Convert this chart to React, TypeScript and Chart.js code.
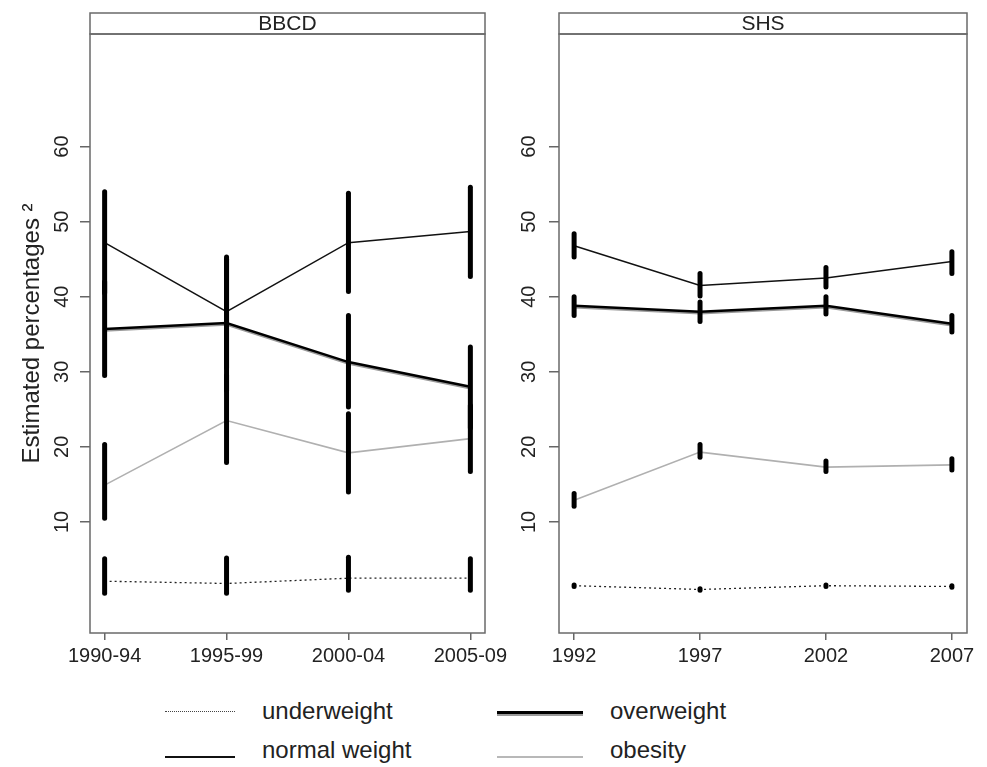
import React, { useEffect, useRef } from 'react';
import { Chart, registerables } from 'chart.js';

Chart.register(...registerables);

const FONT = "'Liberation Sans', Arial, Helvetica, sans-serif";

// ---- data ----
const bbcdLabels = ['1990-94', '1995-99', '2000-04', '2005-09'];
const bbcdUnder = [2.1, 1.8, 2.5, 2.5];
const bbcdUnderLo = [0.5, 0.5, 0.9, 0.9];
const bbcdUnderHi = [5.1, 5.2, 5.3, 5.1];
const bbcdNormal = [47.2, 38.0, 47.2, 48.7];
const bbcdNormalLo = [40.5, 30.5, 40.7, 42.7];
const bbcdNormalHi = [54.0, 45.3, 53.8, 54.6];
const bbcdOver = [35.7, 36.5, 31.3, 28.0];
const bbcdOverLo = [29.5, 27.5, 25.3, 22.5];
const bbcdOverHi = [42.0, 45.0, 37.5, 33.3];
const bbcdObese = [14.9, 23.5, 19.2, 21.1];
const bbcdObeseLo = [10.5, 17.9, 14.0, 16.7];
const bbcdObeseHi = [20.3, 29.5, 24.4, 25.5];

const shsLabels = ['1992', '1997', '2002', '2007'];
const shsUnder = [1.5, 1.0, 1.5, 1.4];
const shsUnderLo = [1.4, 0.9, 1.4, 1.3];
const shsUnderHi = [1.6, 1.1, 1.6, 1.5];
const shsNormal = [46.8, 41.5, 42.5, 44.7];
const shsNormalLo = [45.3, 40.1, 41.3, 43.1];
const shsNormalHi = [48.4, 43.1, 43.9, 46.0];
const shsOver = [38.8, 38.0, 38.8, 36.4];
const shsOverLo = [37.5, 36.7, 37.7, 35.3];
const shsOverHi = [40.0, 39.3, 40.0, 37.5];
const shsObese = [12.9, 19.3, 17.3, 17.6];
const shsObeseLo = [12.1, 18.6, 16.7, 16.9];
const shsObeseHi = [13.8, 20.3, 18.1, 18.4];

const yTickValues = [10, 20, 30, 40, 50, 60];
const Y_MIN = -4.8;
const Y_MAX = 75;
const X_MIN = -0.12;
const X_MAX = 3.12;

const seriesNames = ['underweight', 'normal weight', 'overweight', 'obesity'];

const decorPlugin = {
  id: 'panelDecor',
  beforeDatasetDraw(chart: any, args: any) {
    const ds = chart.data.datasets[args.index];
    if (ds.shadowCol) {
      const ctx = chart.ctx;
      ctx.save();
      ctx.shadowColor = ds.shadowCol;
      ctx.shadowOffsetX = 0;
      ctx.shadowOffsetY = 1.6;
      ctx.shadowBlur = 0;
    }
  },
  afterDatasetDraw(chart: any, args: any) {
    const ds = chart.data.datasets[args.index];
    if (ds.shadowCol) chart.ctx.restore();
  },
  afterDatasetsDraw(chart: any) {
    const ctx = chart.ctx;
    const xs = chart.scales.x;
    const ys = chart.scales.y;
    ctx.save();
    ctx.strokeStyle = '#000';
    ctx.lineWidth = 5;
    ctx.lineCap = 'round';
    chart.data.datasets.forEach((ds: any) => {
      (ds.lo || []).forEach((lo: number, i: number) => {
        const px = xs.getPixelForValue(i);
        ctx.beginPath();
        ctx.moveTo(px, ys.getPixelForValue(lo));
        ctx.lineTo(px, ys.getPixelForValue(ds.hi[i]));
        ctx.stroke();
      });
    });
    ctx.restore();
  },
  afterDraw(chart: any, _args: any, opts: any) {
    const ctx = chart.ctx;
    const { left, right, top, bottom } = chart.chartArea;
    ctx.save();
    ctx.strokeStyle = '#6a6a6a';
    ctx.lineWidth = 1.5;
    ctx.strokeRect(left, top, right - left, bottom - top);
    ctx.strokeRect(left, top - 21, right - left, 21);
    ctx.fillStyle = '#222';
    ctx.font = `21px ${FONT}`;
    ctx.textAlign = 'center';
    ctx.textBaseline = 'middle';
    ctx.fillText(opts.title, (left + right) / 2, top - 9.5);
    ctx.restore();
  },
};

function pts(values: number[]) {
  return values.map((v, i) => ({ x: i, y: v }));
}

function makeConfig(
  title: string,
  labels: string[],
  s: { under: number[][]; normal: number[][]; over: number[][]; obese: number[][] },
  yAxisWidth: number,
  rightPad: number,
  showYTitle: boolean,
  tickPad: number
): any {
  return {
    type: 'line',
    data: {
      datasets: [
        {
          label: seriesNames[0],
          data: pts(s.under[0]),
          lo: s.under[1],
          hi: s.under[2],
          borderColor: '#222',
          borderWidth: 1.3,
          borderDash: [2, 3],
          pointRadius: 0,
        },
        {
          label: seriesNames[1],
          data: pts(s.normal[0]),
          lo: s.normal[1],
          hi: s.normal[2],
          borderColor: '#111',
          borderWidth: 1.5,
          pointRadius: 0,
        },
        {
          label: seriesNames[3],
          data: pts(s.obese[0]),
          lo: s.obese[1],
          hi: s.obese[2],
          borderColor: '#b0b0b0',
          borderWidth: 1.6,
          pointRadius: 0,
        },
        {
          label: seriesNames[2],
          data: pts(s.over[0]),
          lo: s.over[1],
          hi: s.over[2],
          borderColor: '#000',
          borderWidth: 2.4,
          shadowCol: '#9a9a9a',
          pointRadius: 0,
        },
      ],
    },
    options: {
      responsive: false,
      animation: false,
      layout: { padding: { top: 34, right: rightPad, left: 0, bottom: 0 } },
      plugins: {
        legend: { display: false },
        tooltip: { enabled: false },
        panelDecor: { title },
      },
      scales: {
        x: {
          type: 'linear',
          min: X_MIN,
          max: X_MAX,
          afterBuildTicks: (sc: any) => {
            sc.ticks = labels.map((_, i) => ({ value: i }));
          },
          afterFit: (sc: any) => {
            sc.height = 37;
            sc.paddingLeft = 0;
            sc.paddingRight = 0;
          },
          ticks: {
            callback: (_v: any, i: number) => labels[i],
            font: { size: 20, family: FONT },
            color: '#222',
            padding: 4,
            maxRotation: 0,
            minRotation: 0,
            autoSkip: false,
          },
          grid: { drawOnChartArea: false, drawTicks: true, tickLength: 7, color: '#666', lineWidth: 1.5 },
          border: { display: false },
        },
        y: {
          type: 'linear',
          min: Y_MIN,
          max: Y_MAX,
          afterBuildTicks: (sc: any) => {
            sc.ticks = yTickValues.map((v) => ({ value: v }));
          },
          afterFit: (sc: any) => {
            sc.width = yAxisWidth;
            sc.paddingTop = 0;
            sc.paddingBottom = 0;
          },
          ticks: {
            font: { size: 20, family: FONT },
            color: '#222',
            minRotation: 90,
            maxRotation: 90,
            crossAlign: 'center',
            padding: tickPad,
          },
          grid: { drawOnChartArea: false, drawTicks: true, tickLength: 10, color: '#666', lineWidth: 1.5 },
          border: { display: false },
          title: {
            display: showYTitle,
            text: 'Estimated percentages \u00B2',
            font: { size: 24, family: FONT },
            color: '#222',
            padding: { top: 18, bottom: 0 },
          },
        },
      },
    },
    plugins: [decorPlugin],
  };
}

export default function App() {
  const leftRef = useRef<HTMLCanvasElement>(null);
  const rightRef = useRef<HTMLCanvasElement>(null);

  useEffect(() => {
    const c1 = new Chart(
      leftRef.current as HTMLCanvasElement,
      makeConfig(
        'BBCD',
        bbcdLabels,
        {
          under: [bbcdUnder, bbcdUnderLo, bbcdUnderHi],
          normal: [bbcdNormal, bbcdNormalLo, bbcdNormalHi],
          over: [bbcdOver, bbcdOverLo, bbcdOverHi],
          obese: [bbcdObese, bbcdObeseLo, bbcdObeseHi],
        },
        90,
        45,
        true,
        6
      )
    );
    const c2 = new Chart(
      rightRef.current as HTMLCanvasElement,
      makeConfig(
        'SHS',
        shsLabels,
        {
          under: [shsUnder, shsUnderLo, shsUnderHi],
          normal: [shsNormal, shsNormalLo, shsNormalHi],
          over: [shsOver, shsOverLo, shsOverHi],
          obese: [shsObese, shsObeseLo, shsObeseHi],
        },
        64,
        20,
        false,
        8
      )
    );
    return () => {
      c1.destroy();
      c2.destroy();
    };
  }, []);

  const textStyle: React.CSSProperties = {
    position: 'absolute',
    fontFamily: FONT,
    fontSize: 24,
    lineHeight: '24px',
    color: '#222',
    whiteSpace: 'nowrap',
  };

  return (
    <div style={{ position: 'absolute', left: 0, top: 0, width: 987, height: 767, background: '#fff', overflow: 'hidden' }}>
      <canvas ref={leftRef} width={530} height={670} style={{ position: 'absolute', left: 0, top: 0, width: 530, height: 670 }} />
      <canvas ref={rightRef} width={492} height={670} style={{ position: 'absolute', left: 495, top: 0, width: 492, height: 670 }} />

      {/* legend */}
      <div style={{ position: 'absolute', left: 165, top: 711, width: 70, height: 0, borderTop: '1.5px dotted #444' }} />
      <div style={{ ...textStyle, left: 262, top: 699 }}>{seriesNames[0]}</div>

      <div style={{ position: 'absolute', left: 497, top: 711, width: 86, height: 3, background: '#000', boxShadow: '0 2px 0 #9a9a9a' }} />
      <div style={{ ...textStyle, left: 610, top: 699 }}>{seriesNames[2]}</div>

      <div style={{ position: 'absolute', left: 165, top: 756, width: 70, height: 2, background: '#111' }} />
      <div style={{ ...textStyle, left: 262, top: 738 }}>{seriesNames[1]}</div>

      <div style={{ position: 'absolute', left: 497, top: 756, width: 86, height: 2, background: '#b8b8b8' }} />
      <div style={{ ...textStyle, left: 610, top: 738 }}>{seriesNames[3]}</div>
    </div>
  );
}
